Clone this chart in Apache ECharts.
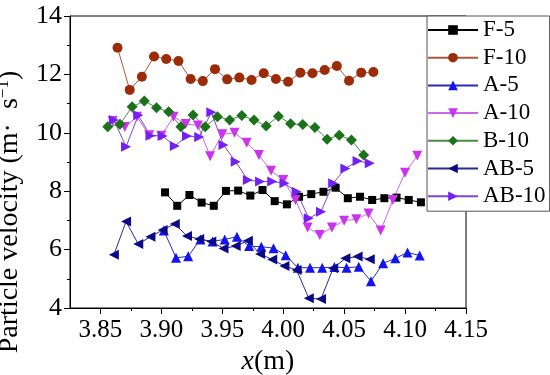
<!DOCTYPE html>
<html>
<head>
<meta charset="utf-8">
<script src="https://cdn.jsdelivr.net/npm/echarts@6/dist/echarts.min.js"></script>
<style>html,body{margin:0;padding:0;background:#fff}#c{width:550px;height:375px}</style>
</head>
<body>
<div id="c"></div>
<script>
// ---- data ----
const seriesNames = ['F-5', 'F-10', 'A-5', 'A-10', 'B-10', 'AB-5', 'AB-10'];
const xMajorTicks = [3.85, 3.90, 3.95, 4.00, 4.05, 4.10, 4.15];
const xMinorTicks = [3.875, 3.925, 3.975, 4.025, 4.075, 4.125];

const f5X = [3.903, 3.913, 3.923, 3.933, 3.943, 3.953, 3.963, 3.973, 3.983, 3.993, 4.003, 4.013, 4.023, 4.033, 4.043, 4.053, 4.063, 4.073, 4.083, 4.093, 4.103, 4.113];
const f5Y = [7.96, 7.50, 7.87, 7.61, 7.50, 8.01, 8.02, 7.85, 8.04, 7.66, 7.55, 7.81, 7.90, 7.98, 8.12, 7.76, 7.81, 7.70, 7.76, 7.78, 7.70, 7.62];

const f10X = [3.864, 3.874, 3.884, 3.894, 3.904, 3.914, 3.924, 3.934, 3.944, 3.954, 3.964, 3.974, 3.984, 3.994, 4.004, 4.014, 4.024, 4.034, 4.044, 4.054, 4.064, 4.074];
const f10Y = [12.91, 11.47, 11.92, 12.61, 12.53, 12.46, 11.84, 11.77, 12.18, 11.83, 11.89, 11.81, 12.04, 11.84, 11.75, 12.06, 12.04, 12.15, 12.29, 11.78, 12.06, 12.08];

const a5X = [3.902, 3.912, 3.922, 3.932, 3.942, 3.952, 3.962, 3.972, 3.982, 3.992, 4.002, 4.012, 4.022, 4.032, 4.042, 4.052, 4.062, 4.072, 4.082, 4.092, 4.102, 4.112];
const a5Y = [6.65, 5.72, 5.77, 6.35, 6.28, 6.35, 6.44, 6.12, 6.10, 6.05, 5.81, 5.38, 5.38, 5.38, 5.40, 5.38, 5.41, 4.92, 5.53, 5.70, 5.90, 5.80];

const a10X = [3.860, 3.870, 3.880, 3.890, 3.900, 3.910, 3.920, 3.930, 3.940, 3.950, 3.960, 3.970, 3.980, 3.990, 4.000, 4.010, 4.020, 4.030, 4.040, 4.050, 4.060, 4.070, 4.080, 4.090, 4.100, 4.110];
const a10Y = [10.40, 10.20, 10.55, 9.92, 9.90, 10.55, 10.30, 10.25, 9.20, 9.95, 10.00, 9.66, 9.24, 8.70, 8.38, 7.70, 6.76, 6.50, 6.76, 6.99, 7.04, 7.24, 6.65, 7.70, 8.63, 9.21];

const b10X = [3.856, 3.866, 3.876, 3.886, 3.896, 3.906, 3.916, 3.926, 3.936, 3.946, 3.956, 3.966, 3.976, 3.986, 3.996, 4.006, 4.016, 4.026, 4.036, 4.046, 4.056, 4.066];
const b10Y = [10.21, 10.29, 10.89, 11.09, 10.86, 10.72, 10.21, 10.61, 10.21, 10.55, 10.44, 10.59, 10.44, 10.23, 10.57, 10.31, 10.28, 10.18, 9.78, 9.92, 9.75, 9.24];

const ab5X = [3.861, 3.871, 3.881, 3.891, 3.901, 3.911, 3.921, 3.931, 3.941, 3.951, 3.961, 3.971, 3.981, 3.991, 4.001, 4.011, 4.021, 4.031, 4.041, 4.051, 4.061, 4.071];
const ab5Y = [5.82, 6.96, 6.19, 6.44, 6.67, 6.88, 6.47, 6.36, 6.28, 6.04, 6.12, 6.30, 5.85, 5.66, 5.44, 5.30, 4.33, 4.31, 5.36, 5.70, 5.76, 5.67];

const ab10X = [3.861, 3.871, 3.881, 3.891, 3.901, 3.911, 3.921, 3.931, 3.941, 3.951, 3.961, 3.971, 3.981, 3.991, 4.001, 4.011, 4.021, 4.031, 4.041, 4.051, 4.061, 4.071];
const ab10Y = [10.44, 9.52, 10.60, 9.90, 9.89, 9.55, 9.89, 9.86, 10.70, 9.58, 9.01, 8.38, 8.33, 8.33, 8.27, 7.98, 7.07, 7.30, 8.27, 8.78, 9.03, 8.96];

// ---- styling ----
const FONT = '"Liberation Serif", "Times New Roman", serif';
const TRI_DOWN = 'path://M0,0 L10,0 L5,9 Z';
const TRI_LEFT = 'path://M9,0 L9,10 L0,5 Z';
const TRI_RIGHT = 'path://M0,0 L0,10 L9,5 Z';

function pairs(xs, ys) { return xs.map((x, i) => [x, ys[i]]); }

function mk(name, xs, ys, symbol, size, fill, line) {
  return {
    name: name, type: 'line', data: pairs(xs, ys),
    symbol: symbol, symbolSize: size, showSymbol: true,
    itemStyle: { color: fill, opacity: 1 },
    lineStyle: { color: line, width: 1 },
    emphasis: { disabled: true },
    animation: false
  };
}

const chart = echarts.init(document.getElementById('c'), null, { renderer: 'canvas' });
chart.setOption({
  animation: false,
  backgroundColor: '#fff',
  textStyle: { fontFamily: FONT },
  grid: { left: 70, right: 84, top: 16, bottom: 67, show: true, borderColor: '#000', borderWidth: 1,
    backgroundColor: 'transparent', containLabel: false, outerBoundsMode: 'none' },
  xAxis: [{
    type: 'value', min: 3.825, max: 4.15,
    axisLine: { show: true, lineStyle: { color: '#000', width: 1 } },
    axisTick: { show: true, inside: false, length: 6, customValues: xMajorTicks, lineStyle: { color: '#000' } },
    axisLabel: { show: true, customValues: xMajorTicks, color: '#000', fontFamily: FONT, fontSize: 25, margin: 10,
      formatter: v => v.toFixed(2) },
    splitLine: { show: false },
    name: '{i|x}(m)', nameLocation: 'middle', nameGap: 33,
    nameTextStyle: { color: '#000', fontFamily: FONT, fontSize: 28,
      rich: { i: { fontStyle: 'italic', fontFamily: FONT, fontSize: 28, color: '#000' } } }
  }, {
    type: 'value', min: 3.825, max: 4.15, position: 'bottom',
    axisLine: { show: false },
    axisTick: { show: true, inside: false, length: 3, customValues: xMinorTicks, lineStyle: { color: '#000' } },
    axisLabel: { show: false },
    splitLine: { show: false }
  }],
  yAxis: {
    type: 'value', min: 4, max: 14, interval: 2,
    axisLine: { show: true, lineStyle: { color: '#000', width: 1 } },
    axisTick: { show: true, inside: false, length: 6, lineStyle: { color: '#000' } },
    minorTick: { show: true, splitNumber: 2, length: 3, lineStyle: { color: '#000' } },
    axisLabel: { color: '#000', fontFamily: FONT, fontSize: 26, margin: 8 },
    splitLine: { show: false },
    name: 'Particle velocity (m·  s{s|−1})', nameLocation: 'middle', nameGap: 37, nameRotate: 90,
    nameTextStyle: { color: '#000', fontFamily: FONT, fontSize: 28, lineHeight: 30, padding: [0, 100, 0, 0],
      rich: { s: { fontSize: 17, fontFamily: FONT, color: '#000', verticalAlign: 'top', lineHeight: 30 } } }
  },
  legend: {
    data: seriesNames,
    orient: 'vertical', left: 427, top: 16,
    backgroundColor: '#fff', borderColor: '#555', borderWidth: 1,
    padding: [2, 4, 3, 0],
    itemWidth: 50, itemHeight: 12, itemGap: 3.7,
    textStyle: { color: '#000', fontFamily: FONT, fontSize: 23, lineHeight: 24 },
    selectedMode: false
  },
  series: [
    mk('F-5', f5X, f5Y, 'rect', 8, '#000000', '#000000'),
    mk('F-10', f10X, f10Y, 'circle', 10, '#9c2c08', '#b4543a'),
    mk('A-5', a5X, a5Y, 'triangle', 10, '#1414f0', '#2a2ab8'),
    mk('A-10', a10X, a10Y, TRI_DOWN, 10, '#cc33ee', '#cc66f0'),
    mk('B-10', b10X, b10Y, 'diamond', 11, '#1b721b', '#4c8a4c'),
    mk('AB-5', ab5X, ab5Y, TRI_LEFT, 10, '#0a0a86', '#2a2a96'),
    mk('AB-10', ab10X, ab10Y, TRI_RIGHT, 10, '#7420f4', '#7c44dc')
  ]
});
</script>
</body>
</html>
